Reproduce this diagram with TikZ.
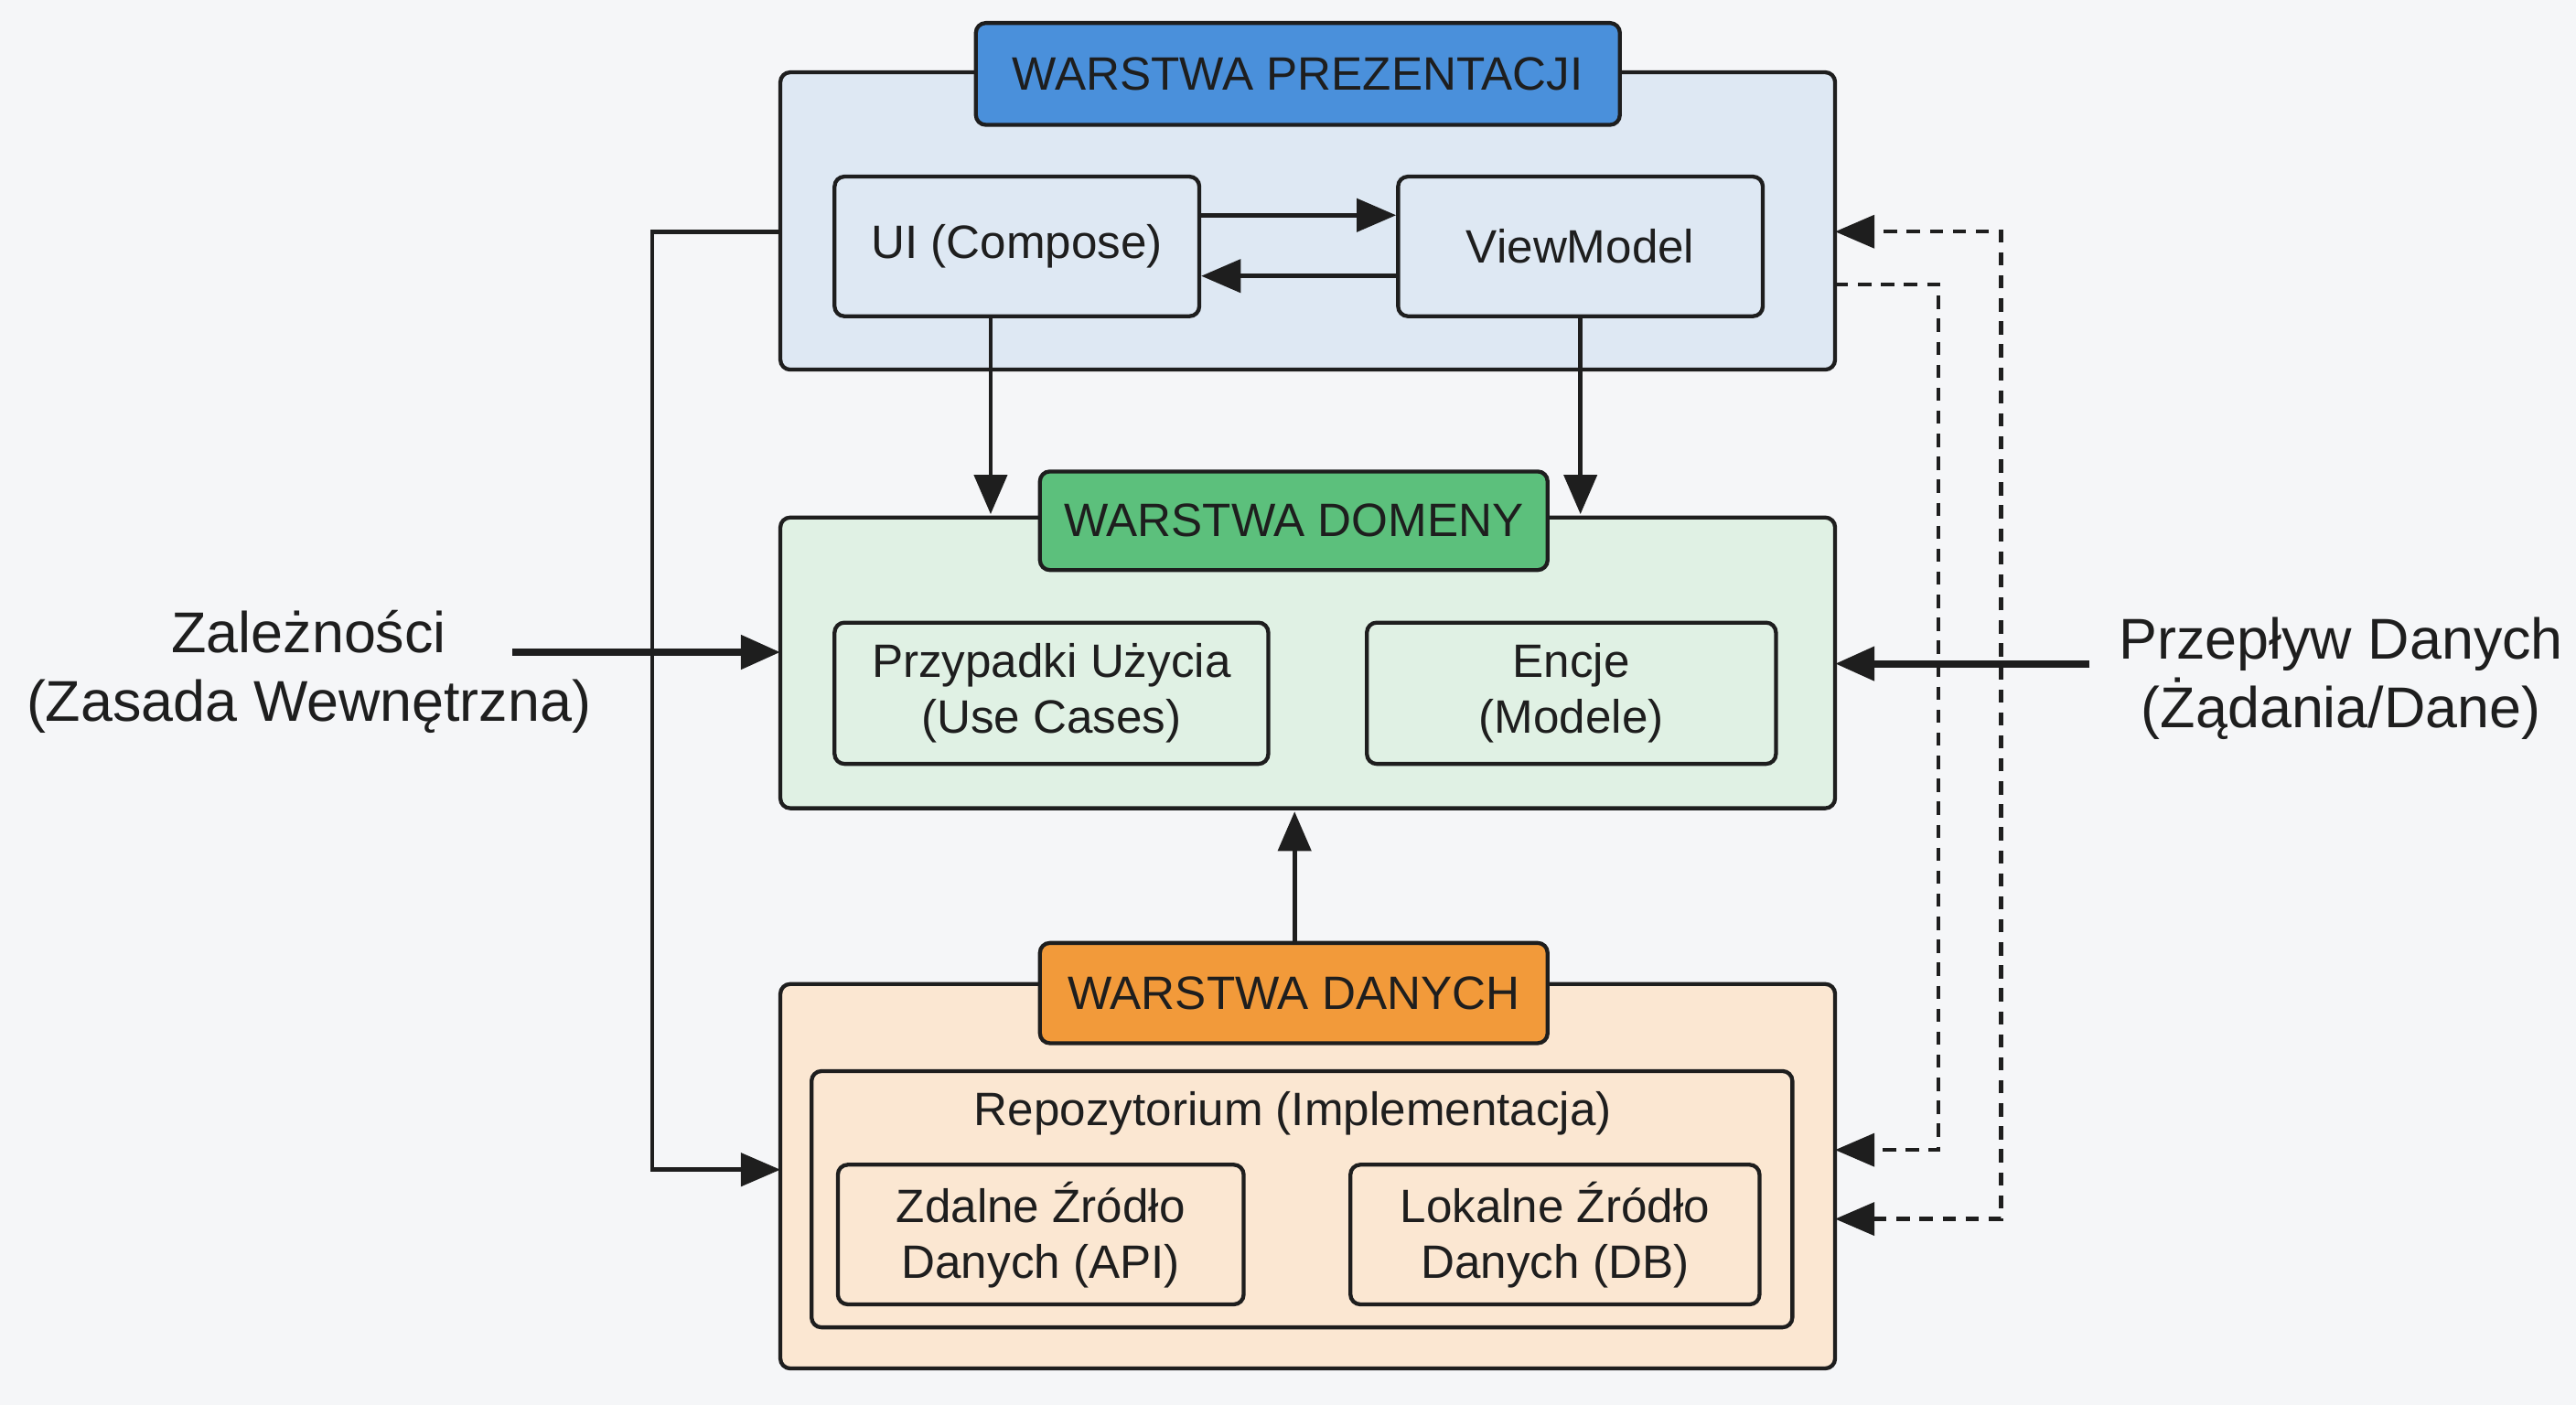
\documentclass[tikz,border=0pt]{standalone}
\usepackage{fontspec}
\setmainfont{Liberation Sans}
\usetikzlibrary{arrows.meta}
\definecolor{bg}{HTML}{F5F6F8}
\definecolor{pfill}{HTML}{DEE8F3}
\definecolor{dfill}{HTML}{E0F1E4}
\definecolor{afill}{HTML}{FBE7D2}
\definecolor{pblue}{HTML}{4A90DB}
\definecolor{dgreen}{HTML}{5CC07C}
\definecolor{aor}{HTML}{F29A3A}
\definecolor{ln}{HTML}{1E1E1E}
\begin{document}
\begin{tikzpicture}[x=1pt,y=-1pt,
 box/.style={draw=ln,line width=2.4pt,rounded corners=6pt},
 t/.style={font=\fontsize{28.5}{34}\selectfont,align=center,text=ln},
 big/.style={font=\fontsize{35}{42}\selectfont,align=center,text=ln},
 ar/.style={draw=ln,line width=2.6pt,-{Triangle[length=24pt,width=20pt]}},
 tar/.style={draw=ln,line width=4.5pt,-{Triangle[length=24pt,width=20pt]}},
 dar/.style={draw=ln,line width=2.4pt,dash pattern=on 8pt off 6pt,-{Triangle[length=24pt,width=20pt]}}]
\fill[bg] (0,0) rectangle (1568,855);
% presentation
\draw[box,fill=pfill] (475,44) rectangle (1117,225);
\node[box,fill=pblue,t,minimum width=392pt,minimum height=62pt] (pl) at (790,45) {WARSTWA PREZENTACJI};
\node[box,fill=pfill,t,minimum width=222pt,minimum height=85pt] (ui) at (619,150) {UI (Compose)};
\node[box,fill=pfill,t,minimum width=222pt,minimum height=85pt] (vm) at (962,150) {ViewModel};
% domain
\draw[box,fill=dfill] (475,315) rectangle (1117,492);
\node[box,fill=dgreen,t,minimum width=309pt,minimum height=60pt] (dl) at (787.5,317) {WARSTWA DOMENY};
\node[box,fill=dfill,t,minimum width=264pt,minimum height=86pt] (uc) at (640,422) {Przypadki Użycia\\(Use Cases)};
\node[box,fill=dfill,t,minimum width=249pt,minimum height=86pt] (en) at (956.5,422) {Encje\\(Modele)};
% data
\draw[box,fill=afill] (475,599) rectangle (1117,833);
\draw[box] (494,652) rectangle (1091,808);
\node[box,fill=aor,t,minimum width=309pt,minimum height=61pt] (al) at (787.5,604.5) {WARSTWA DANYCH};
\node[t] (repo) at (787,678) {Repozytorium (Implementacja)};
\node[box,fill=afill,t,minimum width=247pt,minimum height=85pt] (zd) at (633.5,751.5) {Zdalne Źródło\\Danych (API)};
\node[box,fill=afill,t,minimum width=249pt,minimum height=85pt] (lo) at (946.5,751.5) {Lokalne Źródło\\Danych (DB)};
% coordinates
\coordinate (pL) at (475,141);
\coordinate (aL) at (475,712);
\coordinate (dL) at (475,397);
\coordinate (dR) at (1117,404);
\coordinate (pR1) at (1117,141);
\coordinate (pR2) at (1117,173);
\coordinate (aR1) at (1117,700);
\coordinate (aR2) at (1117,742);
\coordinate (uiT) at (603,313);
\coordinate (vmT) at (962,313);
\coordinate (dB) at (788,494);
% arrows
\draw[ar] (ui.east|-0,131) -- (vm.west|-0,131);
\draw[ar] (vm.west|-0,168) -- (ui.east|-0,168);
\draw[ar] (603,192) -- (uiT);
\draw[ar] (962,192) -- (vmT);
\draw[ar] (al.north-|dB) -- (dB);
\draw[ar] (pL) -- (397,141) -- (397,712) -- (aL);
\node[big] (zl) at (188,409) {Zależności\\(Zasada Wewnętrzna)};
\node[big] (pr) at (1425,413) {Przepływ Danych\\(Żądania/Dane)};
\draw[tar] (312,397) -- (dL);
\draw[tar] (1272,404) -- (dR);
\draw[dar] (pR2) -- (1180,173) -- (1180,700) -- (aR1);
\draw[dar,{Triangle[length=24pt,width=20pt]}-{Triangle[length=24pt,width=20pt]}] (aR2) -- (1218,742) -- (1218,141) -- (pR1);
\end{tikzpicture}
\end{document}
